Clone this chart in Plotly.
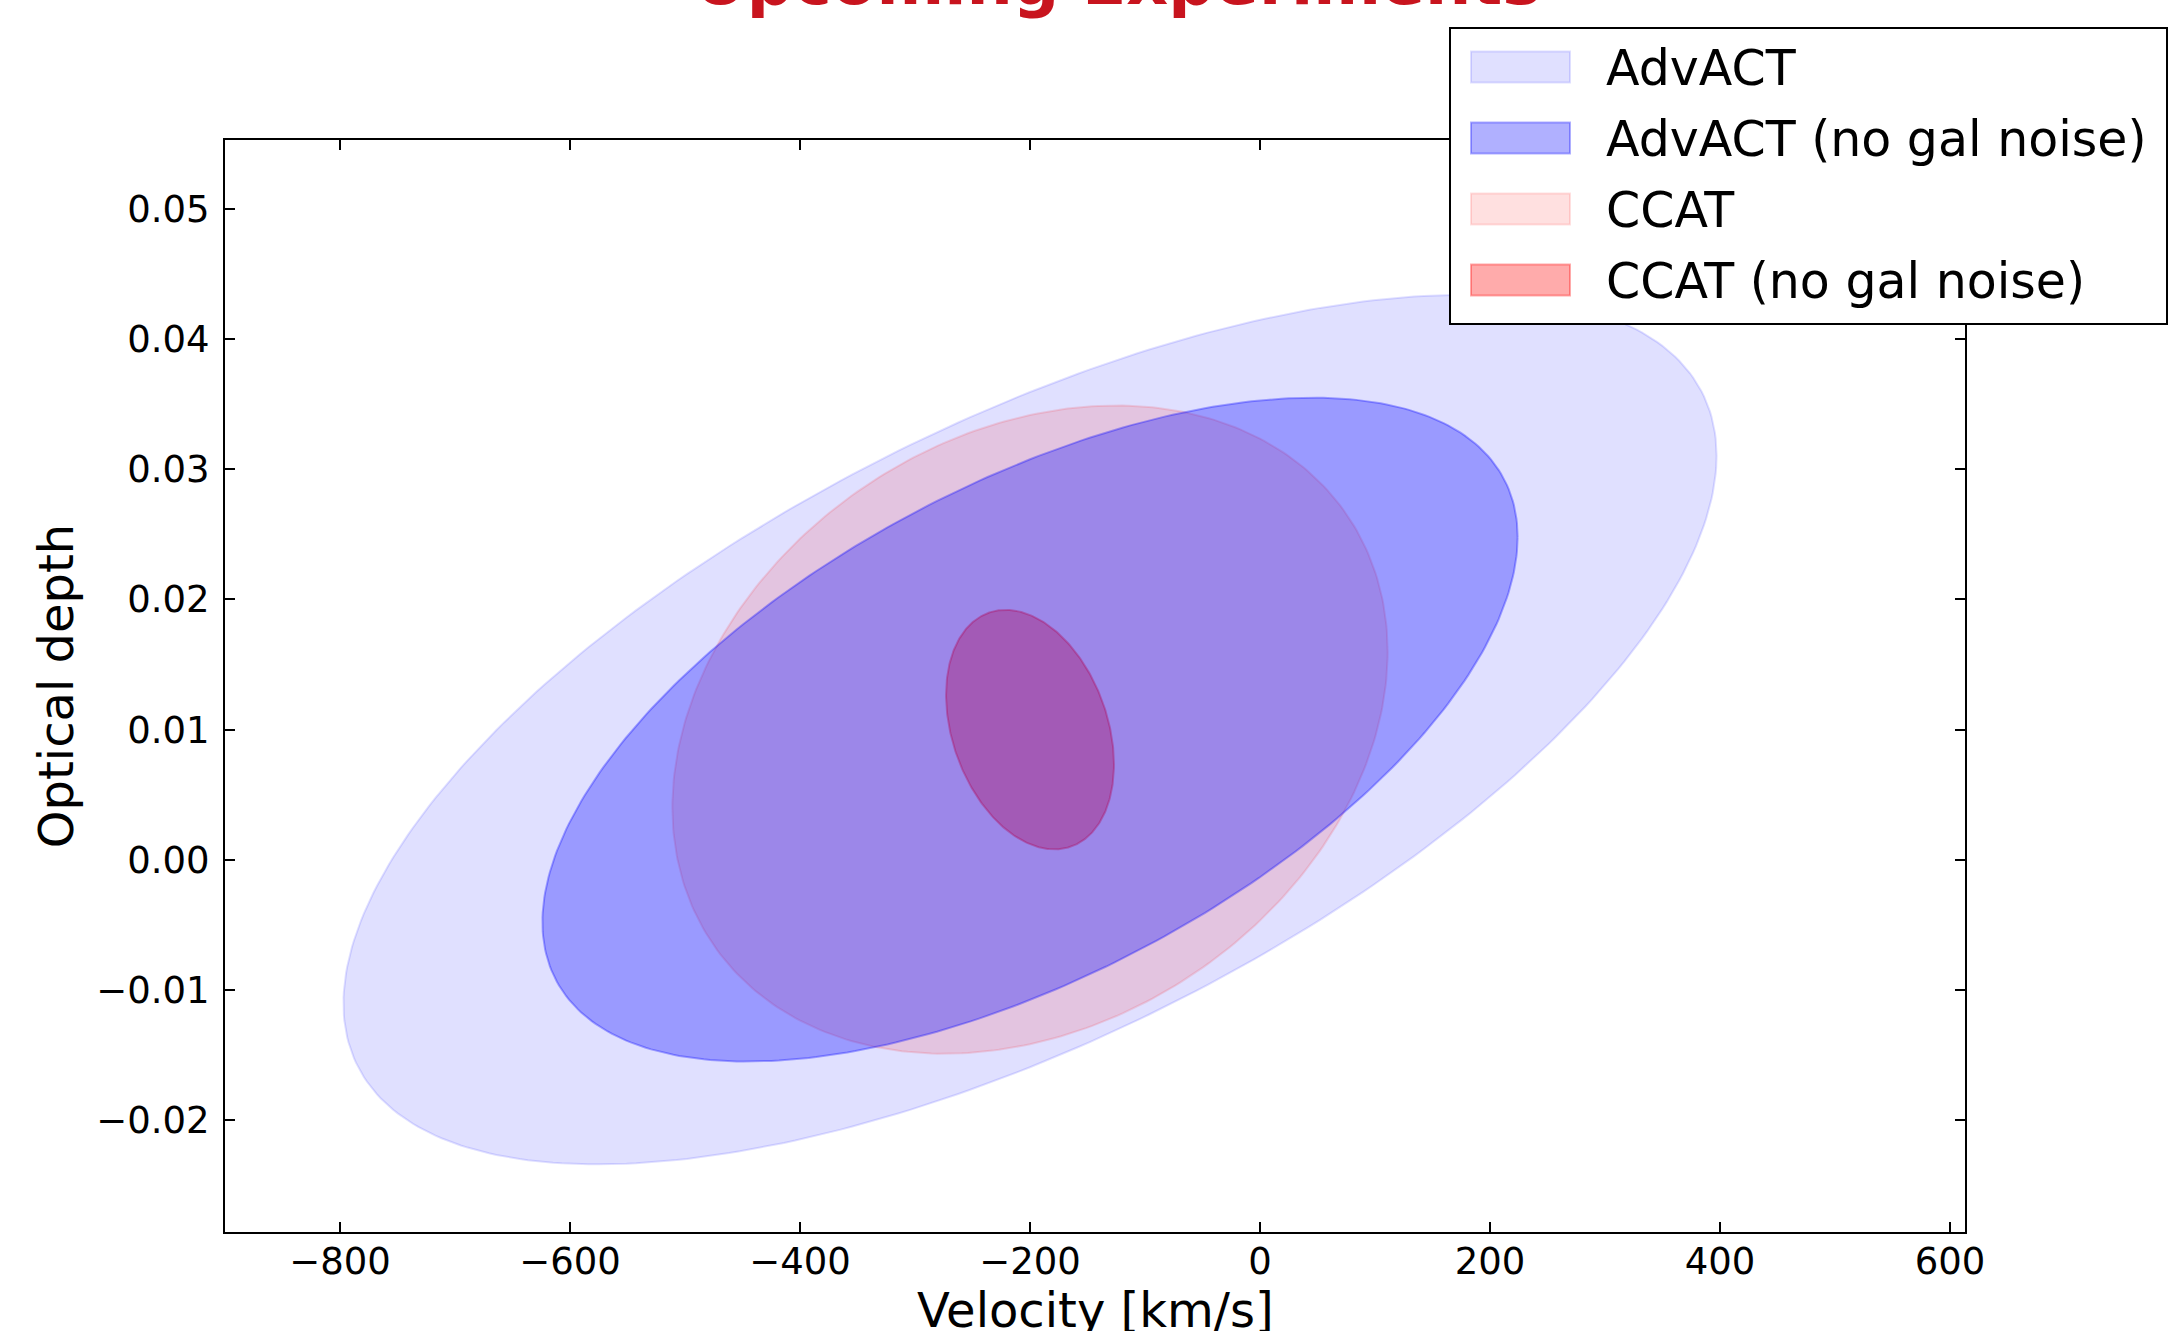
import numpy as np
import plotly.graph_objects as go

# ---------------- data ----------------
names = ["AdvACT", "AdvACT (no gal noise)", "CCAT", "CCAT (no gal noise)"]
base_rgb = ["0,0,255", "0,0,255", "255,0,0", "255,0,0"]
alphas = [0.12, 0.31, 0.12, 0.33]
center_v = [-200, -200, -200, -200]          # km/s
center_tau = [0.010, 0.010, 0.010, 0.010]    # optical depth
half_width_v = [597, 424, 311, 73]           # horizontal half-extent, km/s
half_height_tau = [0.0334, 0.0255, 0.0249, 0.0092]
correlation = [0.63, 0.58, 0.24, -0.29]
draw_order = [0, 2, 3, 1]

x_ticks = [-800, -600, -400, -200, 0, 200, 400, 600]
x_tick_labels = ["\u2212800", "\u2212600", "\u2212400", "\u2212200", "0", "200", "400", "600"]
y_ticks = [-0.02, -0.01, 0.0, 0.01, 0.02, 0.03, 0.04, 0.05]
y_tick_labels = ["\u22120.02", "\u22120.01", "0.00", "0.01", "0.02", "0.03", "0.04", "0.05"]
x_range = [-900, 613]
y_range = [-0.0286, 0.0553]

title_text = "Upcoming Experiments"
x_title = "Velocity [km/s]"
y_title = "Optical depth"

FONT = "DejaVu Sans"
W, H = 2182, 1331
L, R, T, B = 225, 1965, 140, 1232   # plot area in pixels


def px_x(p):
    return (p - L) / (R - L)


def px_y(p):
    return (B - p) / (B - T)


fig = go.Figure()
t = np.linspace(0, 2 * np.pi, 361)
for i in draw_order:
    r = correlation[i]
    xs = center_v[i] + half_width_v[i] * np.cos(t)
    ys = center_tau[i] + half_height_tau[i] * (r * np.cos(t) + np.sqrt(1 - r * r) * np.sin(t))
    col = f"rgba({base_rgb[i]},{alphas[i]})"
    fig.add_trace(go.Scatter(
        x=xs, y=ys, mode="lines", fill="toself", fillcolor=col,
        line=dict(color=col, width=2), name=names[i], showlegend=False,
        hoverinfo="skip"))

# ---------------- manual legend ----------------
shapes = [dict(type="rect", xref="paper", yref="paper",
               x0=px_x(1450), x1=px_x(2167), y0=px_y(324), y1=px_y(28),
               fillcolor="white", line=dict(color="black", width=2), layer="above")]
annotations = []
row_y = [67, 138, 209, 280]
for k, i in enumerate(range(len(names))):
    col = f"rgba({base_rgb[i]},{alphas[i]})"
    shapes.append(dict(type="rect", xref="paper", yref="paper",
                       x0=px_x(1471), x1=px_x(1570),
                       y0=px_y(row_y[k] + 15.5), y1=px_y(row_y[k] - 15.5),
                       fillcolor=col, line=dict(color=col, width=2), layer="above"))
    annotations.append(dict(text=names[i], xref="paper", yref="paper",
                            x=px_x(1604), y=px_y(row_y[k] + 1), xanchor="left", yanchor="middle",
                            showarrow=False, font=dict(family=FONT, size=49, color="black")))

annotations.append(dict(text="<b>" + title_text + "</b>", xref="paper", yref="paper",
                        x=px_x(1117), y=px_y(-19), xanchor="center", yanchor="middle",
                        showarrow=False, font=dict(family=FONT, size=65, color="#c8141e")))

# x-axis title (placed like the reference, partly below the page edge)
annotations.append(dict(text=x_title, xref="paper", yref="paper",
                        x=0.5, y=px_y(1310), xanchor="center", yanchor="middle",
                        showarrow=False, font=dict(family=FONT, size=48, color="black")))

axis_common = dict(showline=True, linecolor="black", linewidth=2, mirror="ticks",
                   ticks="inside", ticklen=10, tickwidth=1.5, tickcolor="black",
                   showgrid=False, zeroline=False,
                   tickfont=dict(family=FONT, size=37, color="black"))

fig.update_layout(
    width=W, height=H,
    margin=dict(l=L, r=W - R, t=T, b=H - B, autoexpand=False),
    paper_bgcolor="white", plot_bgcolor="white",
    shapes=shapes, annotations=annotations,
    xaxis=dict(range=x_range, tickvals=x_ticks, ticktext=x_tick_labels,
               ticklabelstandoff=-4, **axis_common),
    yaxis=dict(range=y_range, tickvals=y_ticks, ticktext=y_tick_labels,
               title=dict(text=y_title, font=dict(family=FONT, size=48, color="black"), standoff=7),
               ticklabelstandoff=6, **axis_common),
)

fig.write_html("out.html")
